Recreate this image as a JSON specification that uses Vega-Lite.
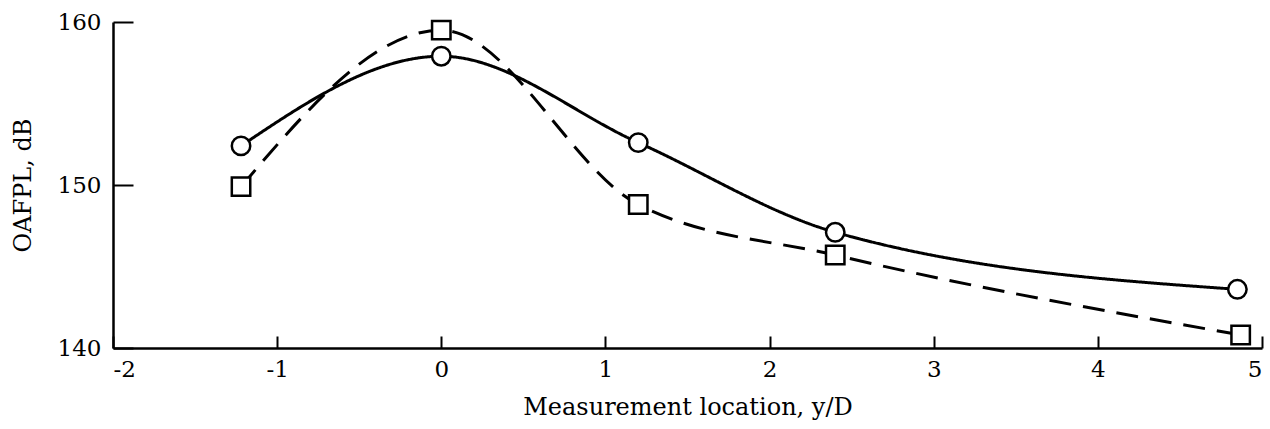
{
  "$schema": "https://vega.github.io/schema/vega-lite/v6.json",
  "width": 1149,
  "height": 326,
  "autosize": {"type": "none"},
  "padding": {"left": 113, "top": 22, "right": 8, "bottom": 81},
  "background": "white",
  "config": {
    "view": {"stroke": null},
    "axis": {
      "grid": false,
      "domainColor": "black",
      "domainWidth": 2.5,
      "tickColor": "black",
      "tickWidth": 2,
      "labelFont": "DejaVu Serif",
      "labelFontSize": 23,
      "labelColor": "black",
      "titleFont": "DejaVu Serif",
      "titleFontSize": 24,
      "titleFontWeight": "normal",
      "titleColor": "black"
    }
  },
  "data": {
    "values": [
      {"series": "circle", "x": -1.22, "y": 152.4},
      {"series": "circle", "x": 0, "y": 157.9},
      {"series": "circle", "x": 1.2, "y": 152.6},
      {"series": "circle", "x": 2.4, "y": 147.1},
      {"series": "circle", "x": 4.85, "y": 143.6},
      {"series": "square", "x": -1.22, "y": 149.9},
      {"series": "square", "x": 0, "y": 159.5},
      {"series": "square", "x": 1.2, "y": 148.8},
      {"series": "square", "x": 2.4, "y": 145.7},
      {"series": "square", "x": 4.87, "y": 140.8}
    ]
  },
  "encoding": {
    "x": {
      "field": "x", "type": "quantitative",
      "scale": {"domain": [-2, 5], "nice": false, "zero": false},
      "axis": {
        "values": [-2, -1, 0, 1, 2, 3, 4, 5],
        "labelExpr": "'' + datum.value",
        "labelFontSize": 23,
        "tickSize": -12,
        "labelPadding": 22,
        "title": "Measurement location, y/D",
        "titlePadding": 14
      }
    },
    "y": {
      "field": "y", "type": "quantitative",
      "scale": {"domain": [140, 160], "nice": false, "zero": false},
      "axis": {
        "values": [140, 150, 160],
        "labelFontSize": 23,
        "tickSize": -20,
        "labelPadding": 32,
        "title": "OAFPL, dB",
        "titlePadding": 22
      }
    }
  },
  "layer": [
    {
      "mark": {"type": "line", "interpolate": "monotone", "color": "black", "strokeWidth": 3},
      "encoding": {
        "detail": {"field": "series"},
        "strokeDash": {
          "field": "series", "type": "nominal",
          "scale": {"domain": ["circle", "square"], "range": [[1, 0], [22, 12]]},
          "legend": null
        }
      }
    },
    {
      "mark": {"type": "point", "filled": true, "fill": "white", "stroke": "black", "strokeWidth": 2.5, "size": 340, "opacity": 1},
      "encoding": {
        "shape": {
          "field": "series", "type": "nominal",
          "scale": {"domain": ["circle", "square"], "range": ["circle", "square"]},
          "legend": null
        }
      }
    }
  ]
}
